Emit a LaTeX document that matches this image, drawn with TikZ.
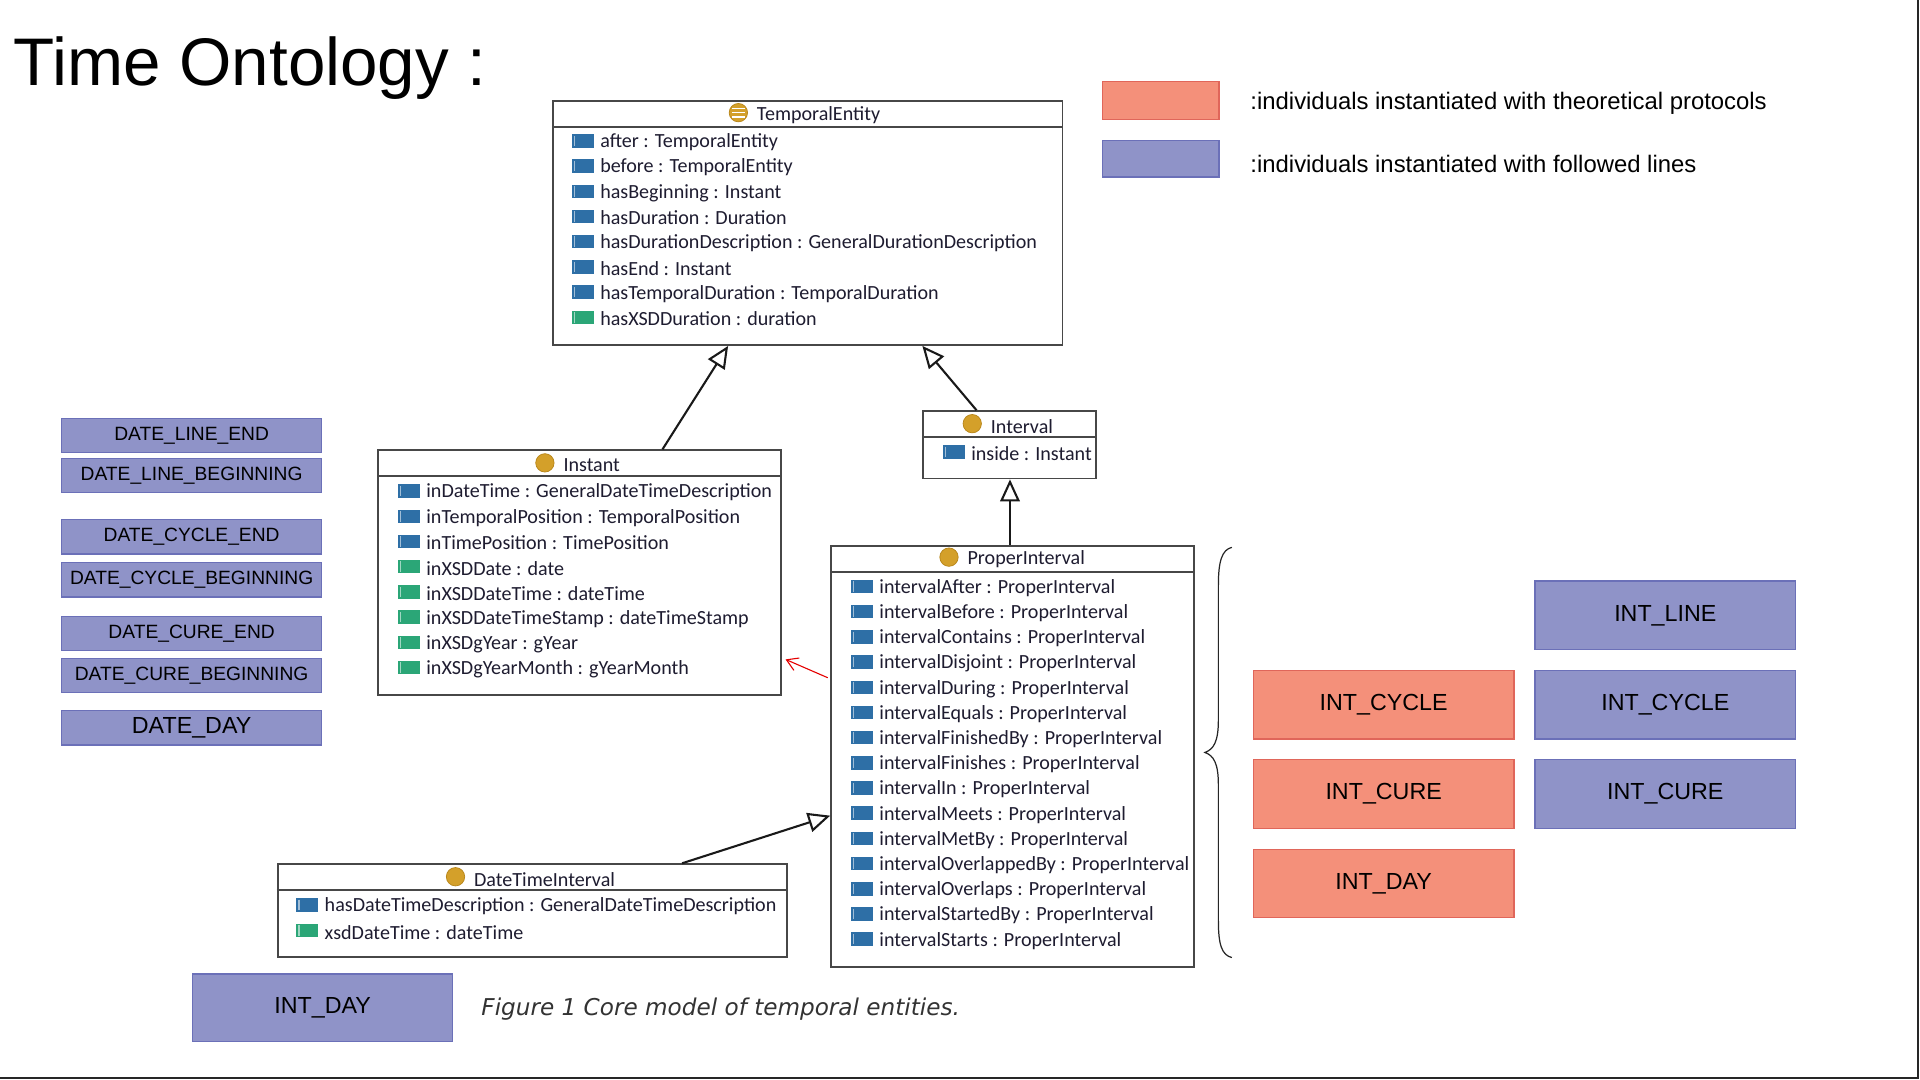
\documentclass[tikz,border=0pt]{standalone}
\usepackage{fontspec}
\setmainfont{Liberation Sans}
\newfontfamily\umlfont{Carlito}
\newfontfamily\capfont{DejaVu Sans}
\usetikzlibrary{calc,arrows.meta}
\definecolor{salmon}{HTML}{F4907A}
\definecolor{salmonedge}{HTML}{E0665A}
\definecolor{lav}{HTML}{8F93C8}
\definecolor{lavedge}{HTML}{6B70B8}
\definecolor{icblue}{HTML}{2E6FA6}
\definecolor{icgreen}{HTML}{2BA677}
\definecolor{gold}{HTML}{D4A02A}
\definecolor{goldedge}{HTML}{B8861A}
\definecolor{umltext}{HTML}{1E1C30}
\newcounter{attrc}
\newcommand\umlattr[4]{%
  \stepcounter{attrc}%
  \fill[#3] (#1,#2-5.5) rectangle ++(18,11);
  \draw[white!55!#3, line width=0.9pt] (#1+2.2,#2-4.3) -- (#1+2.2,#2+4.3);
  \node[attr] (attr-\arabic{attrc}) at (#1+23,#2+1.3) {#4};}
\newcommand\umlicon[3]{% x y name
  \node[classicon] (#3) at (#1,#2) {};}
\begin{document}
\begin{tikzpicture}[x=1pt,y=-1pt,
  umlframe/.style={draw=black!72, line width=1.5pt, fill=white, inner sep=0pt, anchor=north west},
  lavbox/.style={fill=lav, draw=lavedge, line width=1pt, inner sep=0pt, anchor=north west, font=\fontsize{15.7}{16}\selectfont},
  lavbig/.style={lavbox, font=\fontsize{19}{20}\selectfont},
  salbox/.style={fill=salmon, draw=salmonedge, line width=1pt, inner sep=0pt, anchor=north west, font=\fontsize{19}{20}\selectfont},
  attr/.style={anchor=west, font=\umlfont\fontsize{16.4}{17}\selectfont, text=umltext, inner sep=0pt},
  headtxt/.style={attr},
  classicon/.style={circle, fill=gold, draw=goldedge, line width=0.6pt, minimum size=15pt, inner sep=0pt},
  sepline/.style={draw=black!72, line width=1.5pt},
  gen/.style={-{Triangle[open, length=18pt, width=16pt, line width=1.7pt]}, line width=1.7pt, black!90},
]
\useasboundingbox (0,0) rectangle (1568,882);
\fill[white] (0,0) rectangle (1568,882);
% frame lines right and bottom
\draw[black!85, line width=1.6pt] (1566,0) -- (1566,880.5) -- (0,880.5);

% title
\node[anchor=base west, inner sep=0pt, font=\fontsize{55}{60}\selectfont] (title) at (11,70) {Time Ontology :};

% legend
\node[salbox, minimum width=95pt, minimum height=31pt] (legS) at (900,66) {};
\node[lavbox, minimum width=95pt, minimum height=30pt] (legL) at (900,114) {};
\node[anchor=west, inner sep=0pt, font=\fontsize{19.5}{20}\selectfont] (legSt) at (1021,84.5) {:individuals instantiated with theoretical protocols};
\node[anchor=west, inner sep=0pt, font=\fontsize{19.5}{20}\selectfont] (legLt) at (1021,134) {:individuals instantiated with followed lines};

% ===== TemporalEntity
\node[umlframe, minimum width=416pt, minimum height=199pt] (te) at (451,82) {};
\draw[sepline] (451,104) -- (867,104);
\umlicon{603}{92}{teicon}
\draw[white, line width=1.1pt] (598,88.5) -- (608,88.5) (597.5,92) -- (608.5,92) (598,95.5) -- (608,95.5);
\node[headtxt] (tename) at (618,94) {TemporalEntity};
\foreach \t [count=\i from 0] in {after : TemporalEntity, before : TemporalEntity, hasBeginning : Instant, hasDuration : Duration, hasDurationDescription : GeneralDurationDescription, hasEnd : Instant, hasTemporalDuration : TemporalDuration}
  {\umlattr{467}{115+\i*20.6}{icblue}{\t}}
\umlattr{467}{259.2}{icgreen}{hasXSDDuration : duration}

% ===== Instant
\node[umlframe, minimum width=329pt, minimum height=200pt] (inst) at (308,367) {};
\draw[sepline] (308,389) -- (637,389);
\umlicon{445}{378}{insticon}
\node[headtxt] (instname) at (460,380) {Instant};
\foreach \t [count=\i from 0] in {inDateTime : GeneralDateTimeDescription, inTemporalPosition : TemporalPosition, inTimePosition : TimePosition}
  {\umlattr{325}{401+\i*20.6}{icblue}{\t}}
\foreach \t [count=\i from 3] in {inXSDDate : date, inXSDDateTime : dateTime, inXSDDateTimeStamp : dateTimeStamp, inXSDgYear : gYear, inXSDgYearMonth : gYearMonth}
  {\umlattr{325}{401+\i*20.6}{icgreen}{\t}}

% ===== Interval
\node[umlframe, minimum width=141pt, minimum height=55pt] (iv) at (753,335) {};
\draw[sepline] (753,357) -- (894,357);
\umlicon{794}{346}{ivicon}
\node[headtxt] (ivname) at (809,348) {Interval};
\umlattr{770}{369}{icblue}{inside : Instant}

% ===== ProperInterval
\node[umlframe, minimum width=296pt, minimum height=344pt] (pi) at (678,445) {};
\draw[sepline] (678,467) -- (974,467);
\umlicon{775}{455}{piicon}
\node[headtxt] (piname) at (790,457) {ProperInterval};
\foreach \t [count=\i from 0] in {intervalAfter : ProperInterval, intervalBefore : ProperInterval, intervalContains : ProperInterval, intervalDisjoint : ProperInterval, intervalDuring : ProperInterval, intervalEquals : ProperInterval, intervalFinishedBy : ProperInterval, intervalFinishes : ProperInterval, intervalIn : ProperInterval, intervalMeets : ProperInterval, intervalMetBy : ProperInterval, intervalOverlappedBy : ProperInterval, intervalOverlaps : ProperInterval, intervalStartedBy : ProperInterval, intervalStarts : ProperInterval}
  {\umlattr{695}{479+\i*20.57}{icblue}{\t}}

% ===== DateTimeInterval
\node[umlframe, minimum width=416pt, minimum height=76pt] (dti) at (226,705) {};
\draw[sepline] (226,727) -- (642,727);
\umlicon{372}{716}{dticon}
\node[headtxt] (dtiname) at (387,718) {DateTimeInterval};
\umlattr{242}{739}{icblue}{hasDateTimeDescription : GeneralDateTimeDescription}
\umlattr{242}{760}{icgreen}{xsdDateTime : dateTime}

% ===== generalization arrows
\draw[gen] ($(inst.north west)!0.705!(inst.north east)$) -- ($(te.south west)!0.344!(te.south east)$);
\draw[gen] ($(iv.north west)!0.312!(iv.north east)$) -- ($(te.south west)!0.724!(te.south east)$);
\coordinate (ivb) at ($(iv.south west)!0.504!(iv.south east)$);
\draw[gen] (ivb |- pi.north) -- (ivb);
\draw[gen] ($(dti.north west)!0.793!(dti.north east)$) -- ($(pi.north west)!0.64!(pi.south west)$);
% red arrow
\coordinate (redtail) at ($(pi.north west)!0.314!(pi.south west)+(-2,0)$);
\draw[red!90!black, line width=0.9pt, -{Straight Barb[length=9pt, width=11pt]}] (redtail) -- ($(inst.south east)+(3,-30)$);

% ===== left lavender boxes
\node[lavbox, minimum width=212pt, minimum height=28pt] (dle) at (50,341) {DATE\_LINE\_END};
\node[lavbox, minimum width=212pt, minimum height=28pt] (dlb) at (50,374) {DATE\_LINE\_BEGINNING};
\node[lavbox, minimum width=212pt, minimum height=28pt] (dce) at (50,424) {DATE\_CYCLE\_END};
\node[lavbox, minimum width=212pt, minimum height=28pt] (dcb) at (50,459) {DATE\_CYCLE\_BEGINNING};
\node[lavbox, minimum width=212pt, minimum height=28pt] (dcue) at (50,503) {DATE\_CURE\_END};
\node[lavbox, minimum width=212pt, minimum height=28pt] (dcub) at (50,537) {DATE\_CURE\_BEGINNING};
\node[lavbig, minimum width=212pt, minimum height=28pt] (dday) at (50,580) {DATE\_DAY};
\node[lavbig, minimum width=212pt, minimum height=55pt] (intdayL) at (157,795) {INT\_DAY};

% ===== right boxes
\node[lavbig, minimum width=213pt, minimum height=56pt] (ilineL) at (1253,474) {INT\_LINE};
\node[salbox, minimum width=213pt, minimum height=56pt] (icycS) at (1023,547) {INT\_CYCLE};
\node[lavbig, minimum width=213pt, minimum height=56pt] (icycL) at (1253,547) {INT\_CYCLE};
\node[salbox, minimum width=213pt, minimum height=56pt] (icurS) at (1023,620) {INT\_CURE};
\node[lavbig, minimum width=213pt, minimum height=56pt] (icurL) at (1253,620) {INT\_CURE};
\node[salbox, minimum width=213pt, minimum height=56pt] (idayS) at (1023,693) {INT\_DAY};

% brace
\draw[black!85, line width=1pt] (1006,447) .. controls (998,449) and (995,458) .. (995,478) -- (995,588) .. controls (995,606) and (991,612) .. (984,614.5) .. controls (991,617) and (995,623) .. (995,641) -- (995,752) .. controls (995,772) and (998,780) .. (1006,782);

% caption
\node[anchor=west, inner sep=0pt, text=black!80, font=\capfont\itshape\fontsize{18.9}{20}\selectfont] (cap) at (393,824) {Figure 1 Core model of temporal entities.};
\end{tikzpicture}
\end{document}
